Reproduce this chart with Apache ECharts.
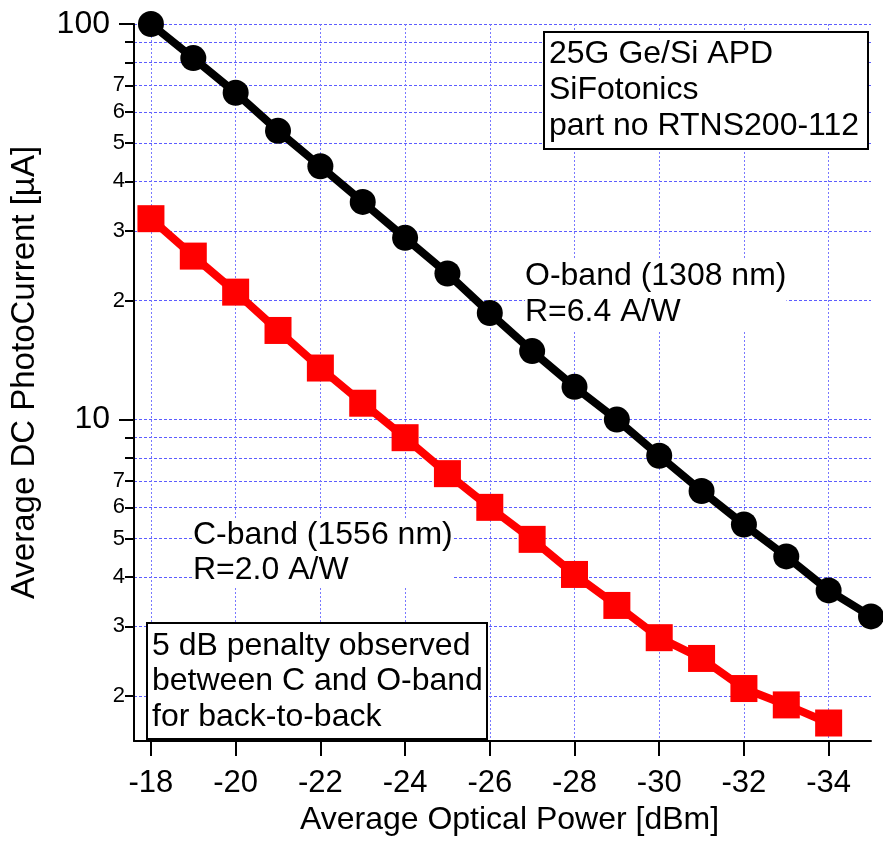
<!DOCTYPE html>
<html lang="en">
<head>
<meta charset="utf-8">
<title>APD DC photocurrent</title>
<script src="https://cdn.jsdelivr.net/npm/echarts@6/dist/echarts.min.js"></script>
<style>
  html, body { margin: 0; padding: 0; background: #fff; }
  #main { width: 883px; height: 842px; }
</style>
</head>
<body>
<div id="main"></div>
<script>
// data
var power = [-18, -19, -20, -21, -22, -23, -24, -25, -26, -27, -28, -29, -30, -31, -32, -33, -34, -35];
var oBand = [100, 82, 67, 53.7, 43.7, 35.5, 28.8, 23.4, 18.6, 14.9, 12.1, 10.0, 8.1, 6.6, 5.43, 4.51, 3.70, 3.18];
var cBand = [32.2, 25.9, 21.0, 16.8, 13.5, 11.0, 9.0, 7.3, 6.0, 4.98, 4.06, 3.39, 2.81, 2.49, 2.09, 1.90, 1.71];

var xTicks = [-18, -20, -22, -24, -26, -28, -30, -32, -34];
var yMajor = [10, 100];
var yMinorTicks = [2, 3, 4, 5, 6, 7, 8, 9, 20, 30, 40, 50, 60, 70, 80, 90];
var yMinorLabels = [2, 3, 4, 5, 6, 7, 20, 30, 40, 50, 60, 70];

var FONT = "'Liberation Sans', Arial, sans-serif";

function pairs(ys) {
    var out = [];
    for (var i = 0; i < ys.length; i++) out.push([power[i], ys[i]]);
    return out;
}

var hGrid = { show: true, lineStyle: { color: '#5c5cff', width: 1, type: [3, 2] } };

var myChart = echarts.init(document.getElementById('main'));

var option = {
    backgroundColor: '#fff',
    animation: false,
    grid: { left: 134, right: 12, top: 24, bottom: 101 },
    xAxis: {
        type: 'value',
        min: -35,
        max: -17.6,
        inverse: true,
        name: 'Average Optical Power [dBm]',
        nameLocation: 'middle',
        nameGap: 63,
        nameTextStyle: { fontFamily: FONT, fontSize: 32, color: '#000', padding: [0, 0, 0, 14] },
        axisLine: { lineStyle: { color: '#000', width: 2 } },
        axisTick: { customValues: xTicks, length: 15, lineStyle: { color: '#000', width: 2 } },
        axisLabel: { customValues: xTicks, margin: 27, fontFamily: FONT, fontSize: 31, color: '#000' },
        splitLine: { show: true, lineStyle: { color: '#7878ff', width: 1, type: [2, 2] } }
    },
    yAxis: [{
        type: 'log',
        logBase: 10,
        min: 1.54,
        max: 100,
        position: 'left',
        name: 'Average DC PhotoCurrent [\u00b5A]',
        nameLocation: 'middle',
        nameRotate: 90,
        nameGap: 93,
        nameTextStyle: { fontFamily: FONT, fontSize: 33, color: '#000', padding: [0, 0, 0, 20] },
        axisLine: { show: true, lineStyle: { color: '#000', width: 2 } },
        axisTick: { customValues: yMajor, length: 15, lineStyle: { color: '#000', width: 2 } },
        axisLabel: {
            customValues: yMajor, margin: 24, fontFamily: FONT, fontSize: 32, color: '#000',
            formatter: function (v) { return String(Math.round(v)); }
        },
        splitLine: hGrid
    }, {
        type: 'log',
        logBase: 10,
        min: 1.54,
        max: 100,
        position: 'left',
        offset: 0,
        axisLine: { show: false },
        axisTick: { customValues: yMinorTicks, length: 9, lineStyle: { color: '#000', width: 2 } },
        axisLabel: {
            customValues: yMinorLabels, margin: 9, fontFamily: FONT, fontSize: 22, color: '#000',
            formatter: function (v) {
                var r = Math.round(v);
                return String(r >= 10 ? r / 10 : r);
            }
        },
        splitLine: hGrid
    }],
    graphic: [
        {
            type: 'group', z: 1,
            children: [
                { type: 'rect', z: 1, shape: { x: 544, y: 32, width: 324, height: 117 },
                  style: { fill: '#fff', stroke: '#000', lineWidth: 2 } },
                { type: 'text', z: 1, x: 549, y: 36,
                  style: { text: '25G Ge/Si APD\nSiFotonics\npart no RTNS200-112',
                           font: '32px ' + FONT, fill: '#000', lineHeight: 36 } }
            ]
        },
        {
            type: 'group', z: 1,
            children: [
                { type: 'rect', z: 1, shape: { x: 147, y: 623, width: 340, height: 116 },
                  style: { fill: '#fff', stroke: '#000', lineWidth: 2 } },
                { type: 'text', z: 1, x: 152, y: 628,
                  style: { text: '5 dB penalty observed\nbetween C and O-band\nfor back-to-back',
                           font: '32px ' + FONT, fill: '#000', lineHeight: 35.5 } }
            ]
        },
        { type: 'text', z: 1, x: 525, y: 258,
          style: { text: 'O-band (1308 nm)\nR=6.4 A/W', font: '32px ' + FONT, fill: '#000',
                   lineHeight: 36, backgroundColor: '#fff' } },
        { type: 'text', z: 1, x: 193, y: 518,
          style: { text: 'C-band (1556 nm)\nR=2.0 A/W', font: '32px ' + FONT, fill: '#000',
                   lineHeight: 35, backgroundColor: '#fff' } }
    ],
    series: [{
        name: 'O-band',
        type: 'line',
        z: 3,
        clip: false,
        data: pairs(oBand),
        symbol: 'circle',
        symbolSize: 26,
        lineStyle: { color: '#000', width: 8 },
        itemStyle: { color: '#000' }
    }, {
        name: 'C-band',
        type: 'line',
        z: 3,
        clip: false,
        data: pairs(cBand),
        symbol: 'rect',
        symbolSize: 27,
        lineStyle: { color: '#ff0000', width: 8 },
        itemStyle: { color: '#ff0000' }
    }]
};

myChart.setOption(option);
</script>
</body>
</html>
